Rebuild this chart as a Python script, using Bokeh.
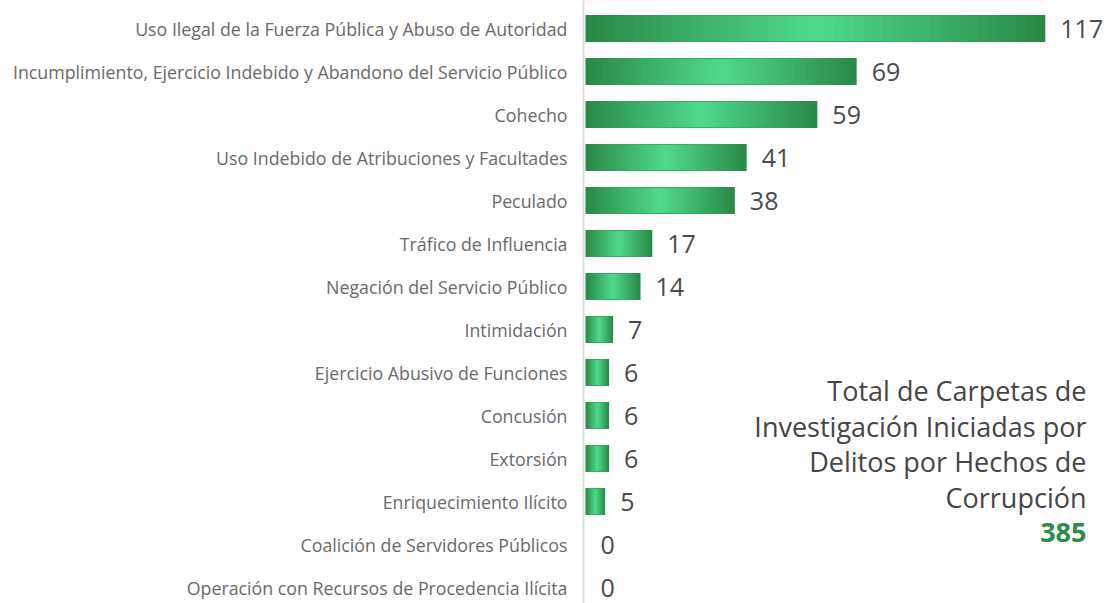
from bokeh.plotting import figure
from bokeh.models import Range1d, FixedTicker, Label, ColumnDataSource
from bokeh.embed import file_html
from bokeh.resources import INLINE
from bokeh.core.properties import value

categories = [
    "Uso Ilegal de la Fuerza Pública y Abuso de Autoridad",
    "Incumplimiento, Ejercicio Indebido y Abandono del Servicio Público",
    "Cohecho",
    "Uso Indebido de Atribuciones y Facultades",
    "Peculado",
    "Tráfico de Influencia",
    "Negación del Servicio Público",
    "Intimidación",
    "Ejercicio Abusivo de Funciones",
    "Concusión",
    "Extorsión",
    "Enriquecimiento Ilícito",
    "Coalición de Servidores Públicos",
    "Operación con Recursos de Procedencia Ilícita",
]
counts = [117, 69, 59, 41, 38, 17, 14, 7, 6, 6, 6, 5, 0, 0]
total_lines = ["Total de Carpetas de", "Investigación Iniciadas por",
               "Delitos por Hechos de", "Corrupción"]
total_value = "385"

W, H = 1117, 603
PX_PER_UNIT = 3.93
ROW = 43.0
frame_left = 583
x_start = -2 / PX_PER_UNIT
x_end = x_start + (W - frame_left) / PX_PER_UNIT
y_top = -28 / ROW
y_bot = (len(categories) - 1) + (H - 587) / ROW

p = figure(width=W, height=H, output_backend="svg", toolbar_location=None,
           x_range=Range1d(x_start, x_end), y_range=Range1d(y_bot, y_top),
           min_border_left=frame_left, min_border_right=0,
           min_border_top=0, min_border_bottom=0)
p.outline_line_color = None
p.grid.visible = False
p.xaxis.visible = False
p.background_fill_color = "white"
p.border_fill_color = "white"

ys = list(range(len(categories)))
yax = p.yaxis[0]
yax.ticker = FixedTicker(ticks=ys)
yax.major_label_overrides = {i: c for i, c in enumerate(categories)}
yax.major_tick_line_color = None
yax.minor_tick_line_color = None
yax.major_tick_out = 0
yax.major_tick_in = 0
yax.major_label_standoff = 16
yax.major_label_text_font = "Open Sans"
yax.major_label_text_font_size = "17.8px"
yax.major_label_text_color = "#6a6a6a"
yax.axis_line_color = "#dcdcdc"
yax.axis_line_width = 2

# gradient bars: nested layers from edge (dark) to centre (light)
c_edge = (42, 138, 72)
c_mid = (79, 216, 139)
N = 24
for k in range(N):
    t = 1 - k / N
    f = k / (N - 1)
    col = "#%02x%02x%02x" % tuple(int(round(c_edge[j] + (c_mid[j] - c_edge[j]) * f)) for j in range(3))
    left = [v / 2 * (1 - t) for v in counts]
    right = [v / 2 * (1 + t) for v in counts]
    hgt = 0.63 * (0.88 + 0.12 * t)
    src = ColumnDataSource(dict(y=ys, left=left, right=right))
    p.hbar(y="y", left="left", right="right", height=hgt, source=src,
           fill_color=col, line_color=None)

lab_src = ColumnDataSource(dict(x=counts, y=ys, t=[str(v) for v in counts]))
p.text(x="x", y="y", text="t", source=lab_src, x_offset=15,
       text_align="left", text_baseline="middle",
       text_font=value("Open Sans"), text_font_size="25px", text_color="#4a4a4a")

# total annotation
ann_x = x_start + (1086 - frame_left) / PX_PER_UNIT
first_y = (390 - 28) / ROW
line_step = 35.5 / ROW
for i, line in enumerate(total_lines):
    p.add_layout(Label(x=ann_x, y=first_y + i * line_step, text=line,
                       text_align="right", text_baseline="middle",
                       text_font="Open Sans", text_font_size="27px",
                       text_color="#454545"))
p.add_layout(Label(x=ann_x, y=first_y + 4 * line_step, text=total_value,
                   text_align="right", text_baseline="middle",
                   text_font="Open Sans", text_font_size="27px",
                   text_font_style="bold", text_color="#2e8b48"))

open("out.html", "w").write(file_html(p, INLINE))
